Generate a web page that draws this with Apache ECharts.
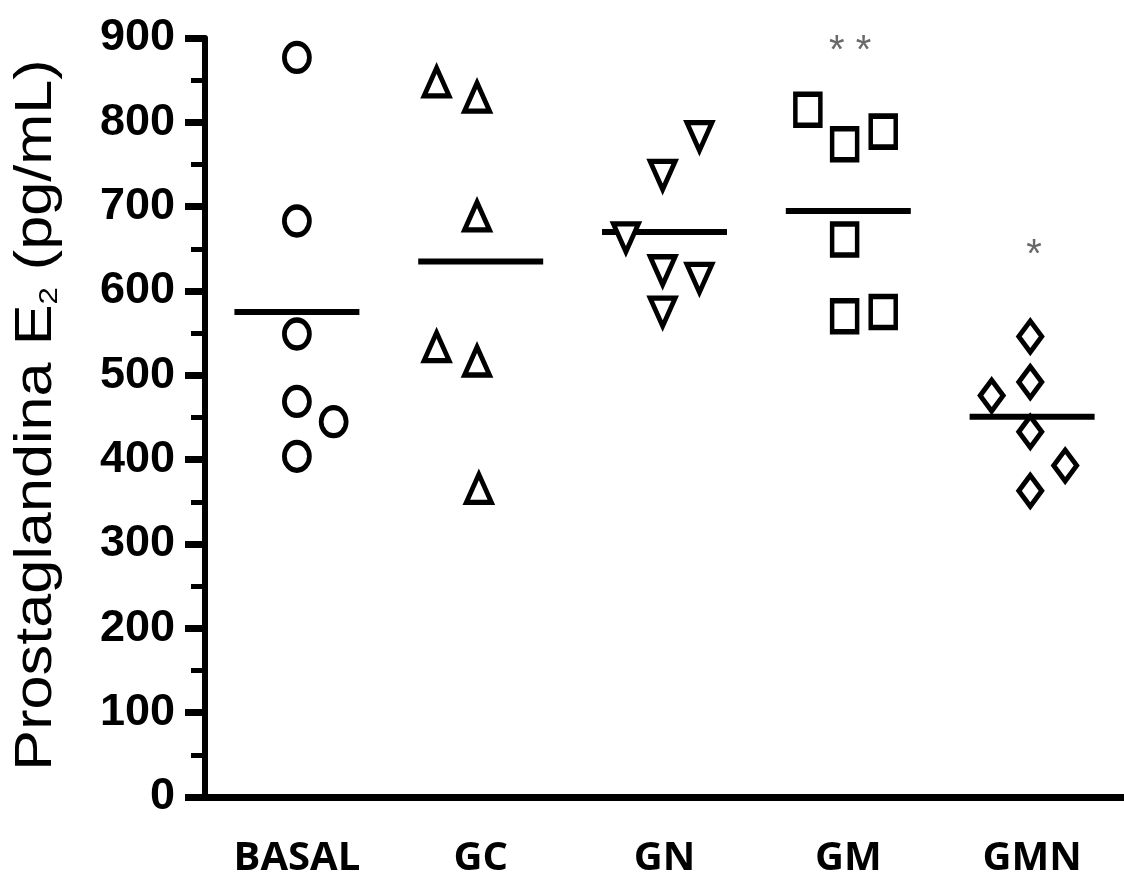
<!DOCTYPE html>
<html>
<head>
<meta charset="utf-8">
<script src="https://cdn.jsdelivr.net/npm/echarts@6/dist/echarts.min.js"></script>
<style>
html,body{margin:0;padding:0;background:#fff;}
#chart{width:1124px;height:879px;}
</style>
</head>
<body>
<div id="chart"></div>
<script>
// ---- data ----
var categories = ['BASAL', 'GC', 'GN', 'GM', 'GMN'];
var yTicks = [0, 100, 200, 300, 400, 500, 600, 700, 800, 900];
var basalValues = [877, 683, 549, 469, 445, 404];
var basalOffsets = [0, 0, 0, 0, 0.2, 0];
var gcValues = [848, 830, 689, 534, 517, 366];
var gcOffsets = [-0.24, -0.02, -0.02, -0.24, -0.02, -0.01];
var gnValues = [783, 737, 663, 624, 615, 575];
var gnOffsets = [0.19, -0.01, -0.21, -0.01, 0.19, -0.01];
var gmValues = [815, 774, 789, 661, 570, 575];
var gmOffsets = [-0.22, -0.02, 0.19, -0.02, -0.02, 0.19];
var gmnValues = [546, 492, 476, 433, 393, 363];
var gmnOffsets = [-0.01, -0.01, -0.22, -0.01, 0.18, -0.01];
var means = [575, 635, 670, 695, 451];
var significance = ['', '', '', '* *', '*'];
var significanceY = [0, 0, 0, 894, 652];

// ---- build ----
var groups = [
  {values: basalValues, offsets: basalOffsets, symbol: 'circle', size: [25, 28], rotate: 0},
  {values: gcValues, offsets: gcOffsets, symbol: 'triangle', size: [25, 28], rotate: 0},
  {values: gnValues, offsets: gnOffsets, symbol: 'triangle', size: [25, 28], rotate: 180},
  {values: gmValues, offsets: gmOffsets, symbol: 'rect', size: [25, 31], rotate: 0},
  {values: gmnValues, offsets: gmnOffsets, symbol: 'diamond', size: [23, 31], rotate: 0}
];
var series = [];
groups.forEach(function (g, i) {
  series.push({
    type: 'scatter',
    name: categories[i],
    xAxisIndex: 1,
    symbol: g.symbol,
    symbolSize: g.size,
    symbolRotate: g.rotate,
    itemStyle: {color: '#ffffff', borderColor: '#000000', borderWidth: 5, opacity: 1},
    emphasis: {disabled: true},
    silent: true,
    z: 3,
    data: g.values.map(function (v, k) { return [i + g.offsets[k], v]; })
  });
  series.push({
    type: 'line',
    xAxisIndex: 1,
    symbol: 'none',
    silent: true,
    lineStyle: {color: '#000', width: 6},
    z: 2,
    data: [[i - 0.34, means[i]], [i + 0.34, means[i]]]
  });
});
var sigData = [];
significance.forEach(function (s, i) { if (s) sigData.push({value: [i + 0.01, significanceY[i]], label: {formatter: s}}); });
series.push({
  type: 'scatter',
  xAxisIndex: 1,
  symbolSize: 1,
  silent: true,
  itemStyle: {color: 'rgba(0,0,0,0)'},
  label: {show: true, position: 'inside', offset: [0, 9], color: '#444', fontSize: 40,
          fontFamily: "'Liberation Sans', Arial, sans-serif"},
  data: sigData
});

var chart = echarts.init(document.getElementById('chart'), null, {renderer: 'canvas'});
chart.setOption({
  animation: false,
  backgroundColor: '#ffffff',
  grid: {left: 205, top: 38, width: 923, bottom: 79, containLabel: false},
  xAxis: [{
    type: 'category',
    data: categories,
    boundaryGap: true,
    axisLine: {lineStyle: {color: '#000', width: 7}},
    axisTick: {alignWithLabel: true, length: 20, lineStyle: {color: '#000', width: 6}},
    axisLabel: {margin: 42, color: '#000', fontSize: 40, fontWeight: 'bold',
                fontFamily: "'Open Sans', 'DejaVu Sans', sans-serif"},
    splitLine: {show: false}
  }, {
    type: 'value',
    min: -0.5,
    max: 4.5,
    show: false
  }],
  yAxis: {
    type: 'value',
    min: yTicks[0],
    max: yTicks[yTicks.length - 1],
    interval: 100,
    axisLine: {show: true, onZero: false, lineStyle: {color: '#000', width: 6}},
    axisTick: {show: true, length: 20, lineStyle: {color: '#000', width: 7}},
    minorTick: {show: true, splitNumber: 2, length: 14, lineStyle: {color: '#000', width: 5}},
    axisLabel: {margin: 30, color: '#000', fontSize: 45, fontWeight: 'bold',
                fontFamily: "'Liberation Sans', Arial, sans-serif"},
    splitLine: {show: false}
  },
  graphic: [{
    type: 'text',
    x: 37,
    y: 415,
    rotation: Math.PI / 2,
    scaleX: 1.2,
    style: {
      text: 'Prostaglandina E{s|2} (pg/mL)',
      fontSize: 51,
      fontFamily: "'Liberation Sans', Arial, sans-serif",
      fill: '#000',
      align: 'center',
      verticalAlign: 'middle',
      rich: {s: {fontSize: 26, verticalAlign: 'bottom', fontFamily: "'Liberation Sans', Arial, sans-serif"}}
    }
  }],
  series: series
});
</script>
</body>
</html>
